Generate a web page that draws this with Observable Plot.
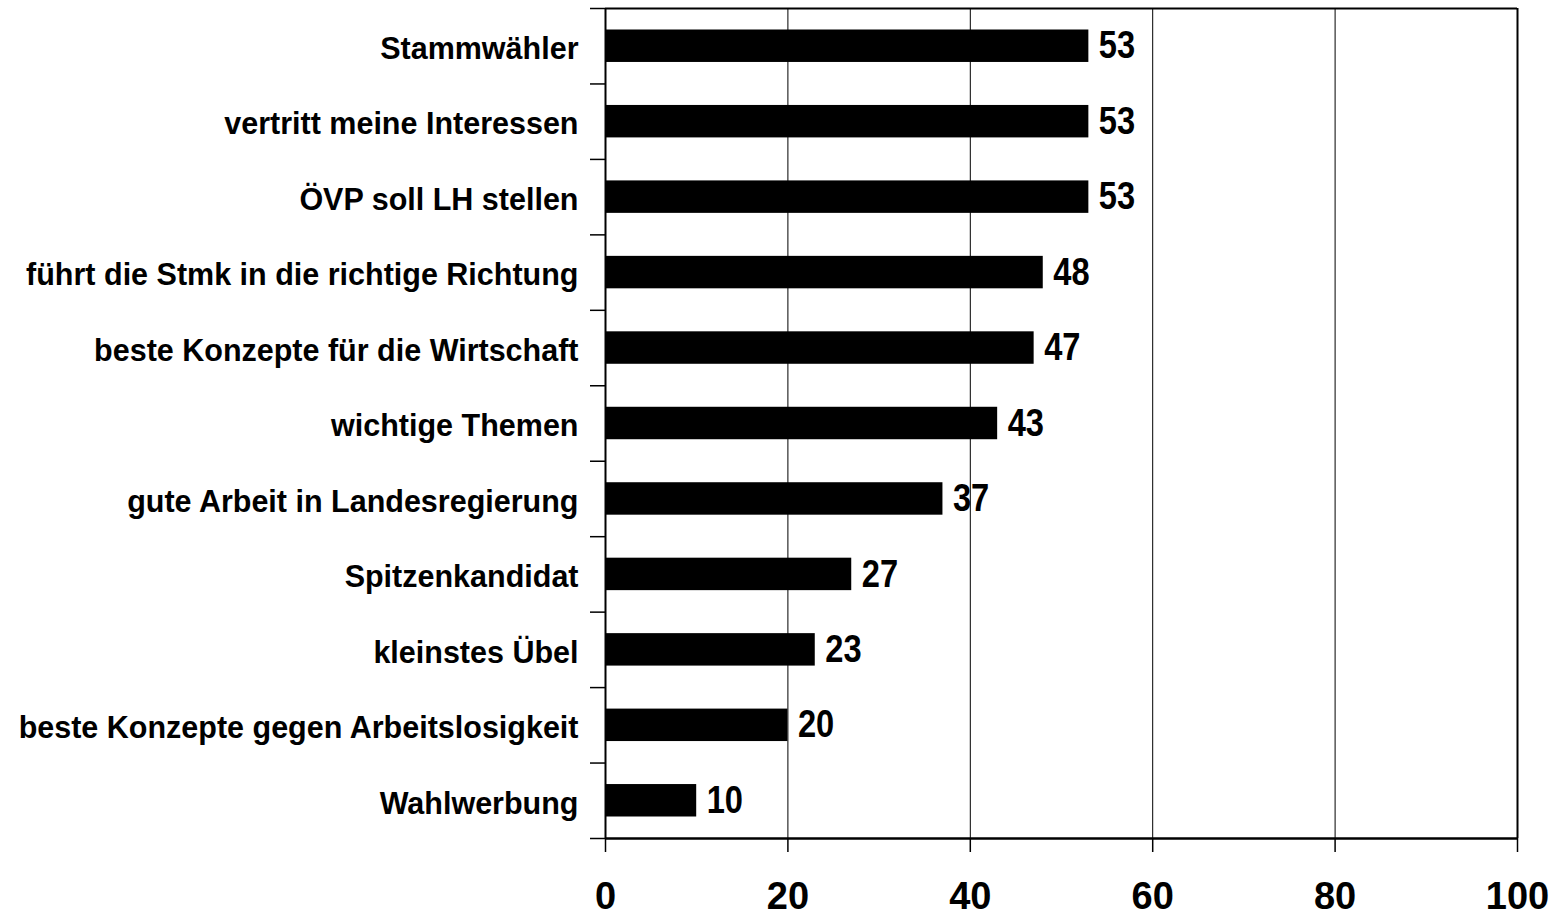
<!DOCTYPE html>
<html><head><meta charset="utf-8">
<script src="https://cdn.jsdelivr.net/npm/d3@7"></script>
<script src="https://cdn.jsdelivr.net/npm/@observablehq/plot@0.6"></script>
<style>body{margin:0;background:#fff} svg{display:block}</style>
</head><body><div id="chart"></div>
<script>
const categories = [
  "Stammwähler",
  "vertritt meine Interessen",
  "ÖVP soll LH stellen",
  "führt die Stmk in die richtige Richtung",
  "beste Konzepte für die Wirtschaft",
  "wichtige Themen",
  "gute Arbeit in Landesregierung",
  "Spitzenkandidat",
  "kleinstes Übel",
  "beste Konzepte gegen Arbeitslosigkeit",
  "Wahlwerbung"
];
const values = [53, 53, 53, 48, 47, 43, 37, 27, 23, 20, 10];
const xTicks = [0, 20, 40, 60, 80, 100];

const n = categories.length;
const data = categories.map((c, i) => ({category: c, value: values[i], pos: i}));
const boundaries = d3.range(n + 1);
const centers = categories.map((c, i) => i + 0.5);

const chart = Plot.plot({
  width: 1555,
  height: 917,
  marginLeft: 605,
  marginRight: 38,
  marginTop: 8,
  marginBottom: 79,
  style: {fontFamily: "'Liberation Sans', Arial, sans-serif", background: "#fff", color: "#000"},
  x: {domain: [0, 100], label: null},
  y: {domain: [n, 0], label: null},
  marks: [
    Plot.ruleX(xTicks.slice(1, -1), {stroke: "#000", strokeWidth: 1}),
    Plot.ruleX([100], {stroke: "#000", strokeWidth: 2}),
    Plot.rectX(data, {x1: 0, x2: "value", y1: "pos", y2: d => d.pos + 1, insetTop: 21.5, insetBottom: 21.5, fill: "#000"}),
    Plot.ruleY([0], {stroke: "#000", strokeWidth: 2}),
    Plot.ruleY([n], {stroke: "#000", strokeWidth: 2.5}),
    Plot.ruleX([0], {stroke: "#000", strokeWidth: 2}),
    Plot.axisY(boundaries, {tickSize: 15, strokeWidth: 1.5, tickFormat: () => "", label: null}),
    Plot.axisY(centers, {tickSize: 0, tickPadding: 27, tickFormat: v => categories[Math.floor(v)], fontSize: 30.5, fontWeight: "bold", dy: 3, label: null}),
    Plot.axisX(xTicks, {tickSize: 14, tickPadding: 30, strokeWidth: 1.5, fontSize: 38, fontWeight: "bold", label: null}),
    Plot.text(data, {x: "value", y: d => d.pos + 0.5, text: d => String(d.value), dx: 10, textAnchor: "start",
      fontSize: 38, fontWeight: "bold"})
  ]
});
document.getElementById("chart").appendChild(chart);

// condense the value labels horizontally (narrow bold digits in the reference);
// the value-label text mark is the last mark group in the svg
const groups = chart.querySelectorAll(":scope > g");
const valueGroup = groups[groups.length - 1];
const sx = 0.86;
Array.from(valueGroup.querySelectorAll("text")).forEach(el => {
  const r = el.getBoundingClientRect();
  const parent = el.parentNode;
  const m = parent.getScreenCTM().inverse();
  const pt = chart.createSVGPoint();
  pt.x = r.left; pt.y = r.top;
  const L = pt.matrixTransform(m).x;
  const wrap = document.createElementNS("http://www.w3.org/2000/svg", "g");
  wrap.setAttribute("transform", `translate(${L},0) scale(${sx},1) translate(${-L},0)`);
  parent.insertBefore(wrap, el);
  wrap.appendChild(el);
});
</script>
</body></html>
